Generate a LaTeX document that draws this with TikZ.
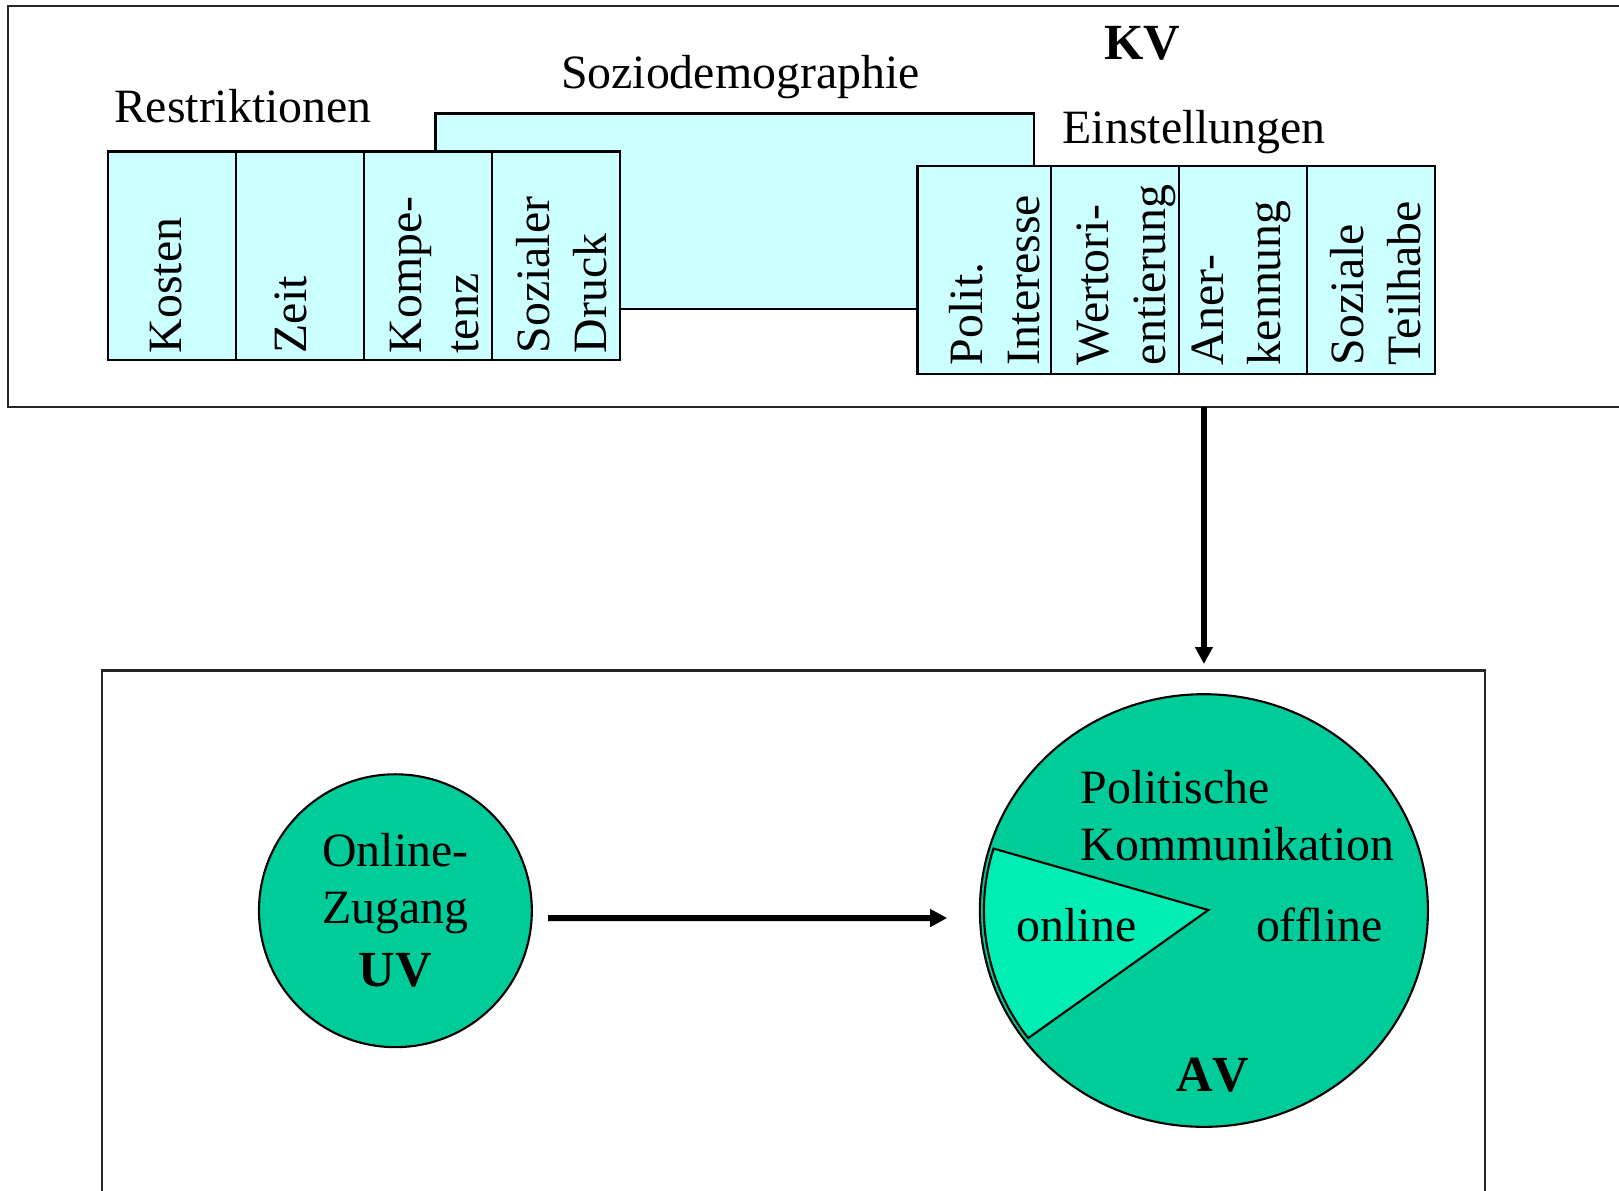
\documentclass[tikz,border=0pt]{standalone}
\usepackage{fontspec}
\setmainfont{Liberation Serif}
\usetikzlibrary{positioning,shapes.geometric,arrows.meta}

\definecolor{cellcyan}{RGB}{204,255,255}
\definecolor{vargreen}{RGB}{0,204,153}
\definecolor{onlinegreen}{RGB}{0,238,180}

\begin{document}
\begin{tikzpicture}[x=0.01cm,y=-0.01cm,
	every node/.style={inner sep=0pt,outer sep=0pt,font=\fontsize{13.6}{16.2}\selectfont},
	outerbox/.style={draw=black!85,line width=0.6pt,anchor=north west},
	cell/.style={draw,fill=cellcyan,line width=0.6pt,minimum width=1.28cm,minimum height=2.08cm},
	vert/.style={rotate=90,anchor=base west,align=left},
	txt/.style={anchor=base west},
	bold/.style={font=\fontsize{14.4}{17}\selectfont\bfseries},
	arrow/.style={line width=1.7pt,-{Triangle[width=0.17cm,length=0.17cm]}}
	]
	\useasboundingbox (0,0) rectangle (1619,1190);

	% frames
	\node[outerbox,minimum width=16.17cm,minimum height=4.007cm] (kvbox) at (8,6) {};
	\node[outerbox,minimum width=13.82cm,minimum height=5.4cm] (mainbox) at (102,670.5) {};

	% control variables
	\node[draw,fill=cellcyan,line width=0.6pt,anchor=north west,minimum width=5.985cm,minimum height=1.95cm] (sozio) at (435.5,113.5) {};
	\node[txt] (soziotext) at (561,88.3) {Soziodemographie};
	\node[txt,bold] (kv) at (1104,59.3) {K\kern0pt V};

	\node[txt] (restr) at (114,122.3) {Restriktionen};
	\node[cell,anchor=north west] (kosten) at (108,151.5) {};
	\node[cell,right=0pt of kosten] (zeit) {};
	\node[cell,right=0pt of zeit] (kompetenz) {};
	\node[cell,right=0pt of kompetenz] (druck) {};

	\node[vert] (kostentext) at (181.7,353.3) {Kosten};
	\node[vert] (zeittext) at (306.7,353.3) {Zeit};
	\node[vert] (kompetenztext) at (478.3,353.3) {Kompe-\\tenz};
	\node[vert] (drucktext) at (606.7,353.3) {Sozialer\\Druck};

	\node[txt] (einst) at (1062.7,143.3) {Einstellungen};
	\node[cell,anchor=north west,minimum width=1.335cm] (polit) at (917.5,165.7) {};
	\node[cell,right=0pt of polit] (werte) {};
	\node[cell,right=0pt of werte] (anerk) {};
	\node[cell,right=0pt of anerk] (teilhabe) {};

	\node[vert] (polittext) at (1039,365) {Polit.\\Interesse};
	\node[vert] (wertetext) at (1165,365) {Wertori-\\entierung};
	\node[vert] (anerktext) at (1280,365) {Aner-\\kennung};
	\node[vert] (teilhabetext) at (1420,365) {Soziale\\Teilhabe};

	% UV and AV
	\node[circle,draw,fill=vargreen,line width=0.6pt,minimum size=2.727cm] (uv) at (395.4,910.7) {};
	\node[ellipse,draw,fill=vargreen,line width=0.6pt,minimum width=4.478cm,minimum height=4.324cm] (av) at (1203.9,910.5) {};
	\filldraw[fill=onlinegreen,line width=0.6pt] (1208.3,910) -- ([shift={(197:220 and 212)}]av.center)
		arc[start angle=197,end angle=143,x radius=220,y radius=212] -- cycle;

	\node[anchor=base,align=center] (uvtext) at (395.4,986) {Online-\\Zugang\\[1.7pt]{\fontsize{14.4}{17}\selectfont\bfseries U\kern0pt V}};
	\node[txt,align=left] (politik) at (1080.7,860.5) {Politische\\Kommunikation};
	\node[txt] (online) at (1016.7,941.7) {online};
	\node[txt] (offline) at (1256,941.7) {offline};
	\node[txt,bold] (avtext) at (1176,1091) {A\kern0pt V};

	\draw[arrow,shorten >=0.065cm] (kvbox.south -| av.north) -- (mainbox.north -| av.north);
	\draw[arrow] ([shift={(16.3,7.3)}]uv.east) -- ([shift={(-32.7,7.5)}]av.west);
\end{tikzpicture}
\end{document}
